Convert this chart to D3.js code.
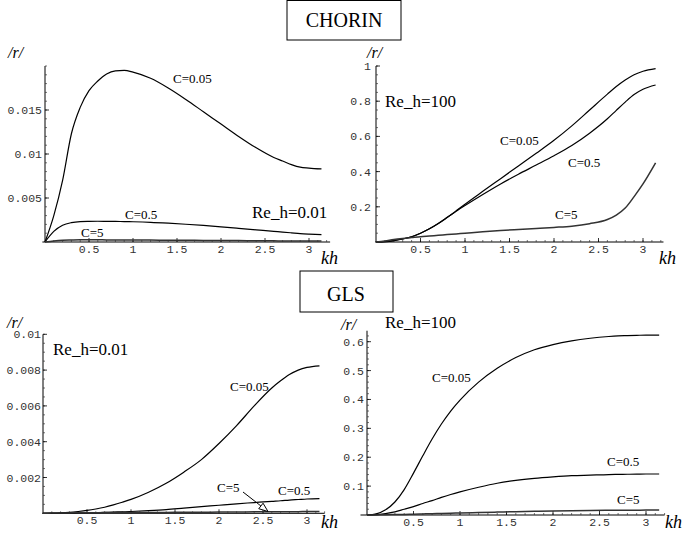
<!DOCTYPE html>
<html><head><meta charset="utf-8">
<script src="https://cdn.jsdelivr.net/npm/d3@7"></script>
<style>body{margin:0;background:#fff}svg{display:block}</style>
</head><body>
<script>
// ---------- DATA ----------
const KH = [0,0.1,0.2,0.3,0.4,0.5,0.6,0.7,0.8,0.9,1.0,1.2,1.4,1.6,1.8,2.0,2.2,2.4,2.6,2.7,2.8,2.9,3.0,Math.PI];

// CHORIN, Re_h = 0.01
const chorinLow_C005 = [0,0.003,0.0070,0.0123,0.0153,0.0172,0.0183,0.0191,0.01945,0.0195,0.0193,0.0186,0.0175,0.0162,0.0148,0.0134,0.0120,0.0107,0.0096,0.0092,0.0088,0.0085,0.0084,0.0083];
const chorinLow_C05  = [0,0.0012,0.0019,0.0022,0.00232,0.00235,0.00236,0.00235,0.00234,0.00232,0.0023,0.00224,0.00214,0.00202,0.00188,0.00172,0.00155,0.00138,0.00121,0.00112,0.00104,0.00096,0.0009,0.00083];
const chorinLow_C5   = [0,0.00012,0.0002,0.00023,0.00025,0.00025,0.00025,0.00024,0.00024,0.00023,0.00023,0.00022,0.0002,0.00019,0.00018,0.00017,0.00016,0.00015,0.00013,0.000125,0.00012,0.000115,0.00011,0.0001];

// CHORIN, Re_h = 100
const chorinHigh_C005 = [0,0.002,0.008,0.017,0.03,0.05,0.075,0.105,0.14,0.177,0.215,0.288,0.36,0.432,0.504,0.578,0.66,0.75,0.84,0.883,0.92,0.95,0.97,0.985];
const chorinHigh_C05  = [0,0.002,0.008,0.017,0.03,0.05,0.075,0.105,0.139,0.174,0.207,0.27,0.33,0.385,0.437,0.49,0.548,0.618,0.70,0.748,0.795,0.838,0.868,0.892];
const chorinHigh_C5   = [0,0.006,0.014,0.02,0.025,0.03,0.034,0.038,0.042,0.046,0.05,0.058,0.065,0.071,0.077,0.083,0.09,0.104,0.128,0.153,0.193,0.258,0.33,0.45];

// GLS, Re_h = 0.01
const glsLow_C005 = [0,0.000005,0.00002,0.00005,0.0001,0.00016,0.00024,0.00034,0.00047,0.00062,0.00078,0.00118,0.00168,0.0023,0.003,0.0039,0.0049,0.006,0.007,0.0074,0.00775,0.008,0.00815,0.00824];
const glsLow_C05  = [0,0,0.000005,0.00001,0.00002,0.00003,0.00004,0.00005,0.00007,0.00008,0.0001,0.00015,0.00021,0.00029,0.00037,0.00045,0.00053,0.0006,0.00067,0.0007,0.00074,0.00077,0.0008,0.00082];
const glsLow_C5   = [0,0.00001,0.00002,0.00002,0.00003,0.00003,0.00003,0.00004,0.00004,0.00004,0.00004,0.00005,0.00005,0.00006,0.00006,0.00007,0.00007,0.00008,0.00008,0.00008,0.00009,0.00009,0.0001,0.0001];

// GLS, Re_h = 100
const glsHigh_C005 = [0,0.004,0.018,0.045,0.088,0.145,0.205,0.263,0.315,0.36,0.398,0.46,0.508,0.545,0.572,0.59,0.603,0.612,0.618,0.62,0.621,0.622,0.623,0.623];
const glsHigh_C05  = [0,0.001,0.005,0.011,0.02,0.029,0.04,0.05,0.061,0.071,0.08,0.096,0.11,0.12,0.127,0.132,0.136,0.138,0.14,0.1405,0.141,0.1415,0.142,0.142];
const glsHigh_C5   = [0,0.0003,0.001,0.0015,0.002,0.003,0.0038,0.0046,0.0055,0.0063,0.007,0.0085,0.01,0.0115,0.0128,0.014,0.015,0.0157,0.0162,0.0164,0.0166,0.0168,0.0169,0.017];

// tick labels
const xTicks = [0.5,1,1.5,2,2.5,3];
const xTickLabels = ["0.5","1","1.5","2","2.5","3"];
const yTicksChorinLow = [0.005,0.01,0.015];
const yLabelsChorinLow = ["0.005","0.01","0.015"];
const yTicksChorinHigh = [0.2,0.4,0.6,0.8,1];
const yLabelsChorinHigh = ["0.2","0.4","0.6","0.8","1"];
const yTicksGlsLow = [0.002,0.004,0.006,0.008,0.01];
const yLabelsGlsLow = ["0.002","0.004","0.006","0.008","0.01"];
const yTicksGlsHigh = [0.1,0.2,0.3,0.4,0.5,0.6];
const yLabelsGlsHigh = ["0.1","0.2","0.3","0.4","0.5","0.6"];

// ---------- DRAW ----------
const W = 682, H = 538;
const svg = d3.select("body").append("svg").attr("width", W).attr("height", H);
const SERIF = '"Liberation Serif", "Times New Roman", serif';
const MONO = '"Liberation Mono", "Courier New", monospace';

const panels = [
  { x0:45, x1:45+88*Math.PI, y0:242, y1:66, yMax:0.02, xAxisMin:-0.03, xAxisMax:3.24, yAxisMax:0.02, minorY:0.001, lp:3,
    yTicks:yTicksChorinLow, yLabels:yLabelsChorinLow,
    series:[chorinLow_C005, chorinLow_C05, chorinLow_C5] },
  { x0:376, x1:376+89*Math.PI, y0:242, y1:66, yMax:1.0, xAxisMin:-0.01, xAxisMax:3.23, yAxisMax:1.0, minorY:0.05, lp:5,
    yTicks:yTicksChorinHigh, yLabels:yLabelsChorinHigh,
    series:[chorinHigh_C005, chorinHigh_C05, chorinHigh_C5] },
  { x0:43, x1:43+88*Math.PI, y0:513.3, y1:334.3, yMax:0.01, xAxisMin:-0.01, xAxisMax:3.2, yAxisMax:0.01, minorY:0.0005, lp:2,
    yTicks:yTicksGlsLow, yLabels:yLabelsGlsLow,
    series:[glsLow_C005, glsLow_C05, glsLow_C5] },
  { x0:367, x1:367+93*Math.PI, y0:515, y1:341.7, yMax:0.6, xAxisMin:-0.07, xAxisMax:3.2, yAxisMax:0.638, minorY:0.02, lp:3,
    yTicks:yTicksGlsHigh, yLabels:yLabelsGlsHigh,
    series:[glsHigh_C005, glsHigh_C05, glsHigh_C5] }
];

panels.forEach(p => {
  const x = d3.scaleLinear().domain([0, Math.PI]).range([p.x0, p.x1]);
  const y = d3.scaleLinear().domain([0, p.yMax]).range([p.y0, p.y1]);
  const g = svg.append("g");

  // axis lines
  g.append("line").attr("x1", x(p.xAxisMin)).attr("x2", x(p.xAxisMax))
    .attr("y1", y(0)).attr("y2", y(0)).attr("stroke", "#000").attr("stroke-width", 1);
  g.append("line").attr("x1", x(0)).attr("x2", x(0))
    .attr("y1", y(0)).attr("y2", y(p.yAxisMax)).attr("stroke", "#000").attr("stroke-width", 1);

  // minor x ticks
  const minorX = d3.range(1, 33).map(i => i * 0.1);
  g.selectAll(null).data(minorX).enter().append("line")
    .attr("x1", d => x(d)).attr("x2", d => x(d))
    .attr("y1", y(0)).attr("y2", y(0) - 2).attr("stroke", "#333").attr("stroke-width", 0.7);
  // major x ticks
  g.selectAll(null).data(xTicks).enter().append("line")
    .attr("x1", d => x(d)).attr("x2", d => x(d))
    .attr("y1", y(0)).attr("y2", y(0) - 4).attr("stroke", "#000").attr("stroke-width", 0.8);
  g.selectAll(null).data(xTicks).enter().append("text")
    .attr("x", d => x(d)).attr("y", y(0) + 11)
    .attr("text-anchor", "middle").style("font-family", MONO).style("font-size", "11.5px")
    .attr("fill", "#333").text((d, i) => xTickLabels[i]);

  // minor y ticks
  const nMinor = Math.floor(p.yAxisMax / p.minorY + 1e-6);
  const minorYv = d3.range(1, nMinor + 1).map(i => i * p.minorY);
  g.selectAll(null).data(minorYv).enter().append("line")
    .attr("x1", x(0)).attr("x2", x(0) + 2)
    .attr("y1", d => y(d)).attr("y2", d => y(d)).attr("stroke", "#333").attr("stroke-width", 0.7);
  g.selectAll(null).data(p.yTicks).enter().append("line")
    .attr("x1", x(0)).attr("x2", x(0) + 4)
    .attr("y1", d => y(d)).attr("y2", d => y(d)).attr("stroke", "#000").attr("stroke-width", 0.8);
  g.selectAll(null).data(p.yTicks).enter().append("text")
    .attr("x", x(0) - p.lp).attr("y", d => y(d) + 4)
    .attr("text-anchor", "end").style("font-family", MONO).style("font-size", "11.5px")
    .attr("fill", "#333").text((d, i) => p.yLabels[i]);

  // curves
  const line = d3.line().x((d, i) => x(KH[i])).y(d => y(d)).curve(d3.curveMonotoneX);
  p.series.forEach((s, k) => {
    g.append("path").attr("d", line(s)).attr("fill", "none")
      .attr("stroke", k === 2 ? "#333" : "#000").attr("stroke-width", k === 2 ? 1.5 : 1.2);
  });
});

// ---------- TEXT ----------
function txt(xp, yp, s, size, opts = {}) {
  return svg.append("text").attr("x", xp).attr("y", yp).text(s)
    .style("font-family", SERIF).style("font-size", size + "px")
    .style("font-style", opts.italic ? "italic" : "normal")
    .attr("text-anchor", opts.anchor || "start").attr("fill", "#000");
}

// title boxes
svg.append("rect").attr("x", 287).attr("y", 0.5).attr("width", 114).attr("height", 39.5)
  .attr("fill", "#fff").attr("stroke", "#000").attr("stroke-width", 1);
txt(344, 27, "CHORIN", 20, { anchor: "middle" });
svg.append("rect").attr("x", 300).attr("y", 271).attr("width", 93).attr("height", 41)
  .attr("fill", "#fff").attr("stroke", "#000").attr("stroke-width", 1);
txt(346, 301, "GLS", 20, { anchor: "middle" });

// axis labels
[[8, 58], [367, 58], [7, 328], [341, 330]].forEach(([a, b]) => txt(a, b, "/r/", 16, { italic: true }));
[[321, 264], [659, 264], [321, 528], [665, 528]].forEach(([a, b]) => txt(a, b, "kh", 18, { italic: true }));

// Reynolds labels
txt(252, 218, "Re_h=0.01", 17);
txt(385, 107, "Re_h=100", 17);
txt(53, 355, "Re_h=0.01", 17);
txt(385, 328, "Re_h=100", 17);

// curve labels
txt(173, 83, "C=0.05", 13);
txt(125, 219, "C=0.5", 13);
txt(81, 237, "C=5", 13);

txt(500, 145, "C=0.05", 13);
txt(568, 167, "C=0.5", 13);
txt(555, 219, "C=5", 13);

txt(230, 391, "C=0.05", 13);
txt(217, 492, "C=5", 13);
txt(278, 495, "C=0.5", 13);

txt(432, 382, "C=0.05", 13);
txt(607, 466, "C=0.5", 13);
txt(617, 504, "C=5", 13);

// arrow in GLS Re_h=0.01 panel
(function () {
  const sx = 243, sy = 492, ex = 268, ey = 511.5;
  const ang = Math.atan2(ey - sy, ex - sx);
  const L = 9, Wd = 3.5;
  const bx = ex - L * Math.cos(ang), by = ey - L * Math.sin(ang);
  const px = -Math.sin(ang), py = Math.cos(ang);
  svg.append("line").attr("x1", sx).attr("y1", sy).attr("x2", bx).attr("y2", by)
    .attr("stroke", "#000").attr("stroke-width", 1);
  svg.append("path")
    .attr("d", `M${ex},${ey}L${bx + px * Wd},${by + py * Wd}L${bx - px * Wd},${by - py * Wd}Z`)
    .attr("fill", "#fff").attr("stroke", "#000").attr("stroke-width", 1);
})();
</script>
</body></html>
